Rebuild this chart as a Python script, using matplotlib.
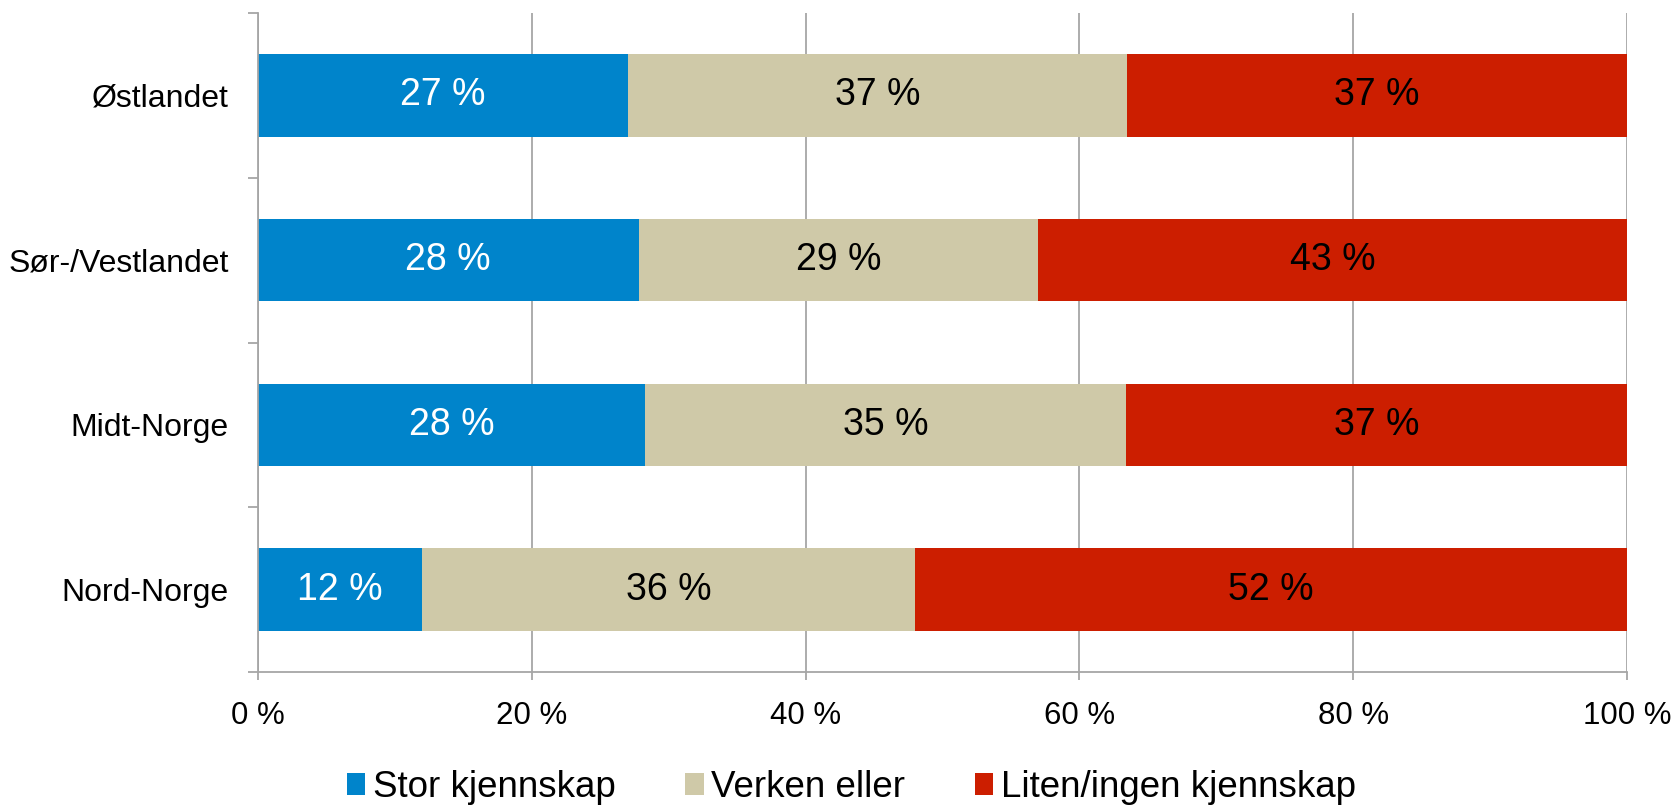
import matplotlib
matplotlib.use("Agg")
import matplotlib.pyplot as plt
from matplotlib.patches import Patch

plt.rcParams['font.family'] = ['Liberation Sans', 'DejaVu Sans']

regions = ["Østlandet", "Sør-/Vestlandet", "Midt-Norge", "Nord-Norge"]
series_names = ["Stor kjennskap", "Verken eller", "Liten/ingen kjennskap"]
stor = [27.0, 27.8, 28.3, 12.0]
verken = [36.5, 29.2, 35.1, 36.0]
liten = [36.5, 43.0, 36.6, 52.0]
stor_labels = ["27 %", "28 %", "28 %", "12 %"]
verken_labels = ["37 %", "29 %", "35 %", "36 %"]
liten_labels = ["37 %", "43 %", "37 %", "52 %"]
xticks = [0, 20, 40, 60, 80, 100]
xtick_labels = ["0 %", "20 %", "40 %", "60 %", "80 %", "100 %"]

colors = ["#0084CB", "#CFC9A8", "#CC1E00"]
text_colors = ["white", "black", "black"]
grid_col = "#A6A6A6"

fig = plt.figure(figsize=(16.76, 8.05), dpi=100)
ax = fig.add_axes([258/1676, 133/805, (1627-258)/1676, (792-133)/805])

ypos = list(range(len(regions)))
series = [stor, verken, liten]
labels = [stor_labels, verken_labels, liten_labels]
left = [0.0] * len(regions)
for vals, lbls, col, tcol in zip(series, labels, colors, text_colors):
    bars = ax.barh(ypos, vals, left=left, height=0.5, color=col, zorder=2)
    ax.bar_label(bars, labels=lbls, label_type='center', color=tcol, fontsize=27)
    left = [l + v for l, v in zip(left, vals)]

ax.set_xlim(0, 100)
ax.set_ylim(len(regions) - 0.5, -0.5)
ax.set_xticks(xticks)
ax.set_xticklabels(xtick_labels, fontsize=22.5)
ax.set_yticks(ypos)
ax.set_yticklabels(regions, fontsize=23)
ax.set_yticks([i + 0.5 for i in range(-1, len(regions))], minor=True)

ax.tick_params(axis='y', which='major', length=0, pad=21)
ax.tick_params(axis='y', which='minor', length=7, width=1.3, color=grid_col)
ax.tick_params(axis='x', which='major', length=6, width=1.3, color=grid_col, pad=15)

ax.xaxis.grid(True, color=grid_col, linewidth=1.3, zorder=0)
ax.set_axisbelow(True)
for s in ['top', 'right']:
    ax.spines[s].set_visible(False)
for s in ['left', 'bottom']:
    ax.spines[s].set_color(grid_col)
    ax.spines[s].set_linewidth(1.3)

handles = [Patch(facecolor=c, edgecolor='none') for c in colors]
fig.legend(handles, series_names, loc='center', bbox_to_anchor=(0.508, 0.022),
           ncol=3, frameon=False, fontsize=26.5, handlelength=0.5, handleheight=0.55,
           handletextpad=0.2, columnspacing=1.9, borderpad=0, borderaxespad=0)

fig.savefig("out.png", dpi=100)
